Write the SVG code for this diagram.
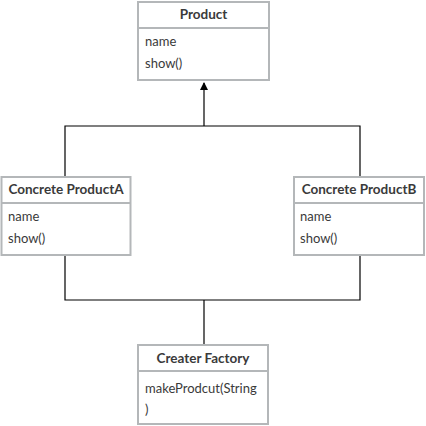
<svg xmlns="http://www.w3.org/2000/svg" width="426" height="426" viewBox="0 0 426 426">
<style>
.box{fill:#fff;stroke:#b4b7b9;stroke-width:2}
.div{stroke:#b4b7b9;stroke-width:2}
.h{font-family:Lato,"Open Sans",sans-serif;font-weight:bold;font-size:13.5px;fill:#3a3a3a;text-anchor:middle}
.t{font-family:Lato,"Open Sans",sans-serif;font-size:13px;fill:#3a3a3a}
.c{fill:none;stroke:#000;stroke-width:1.2}
</style>
<defs>
<marker id="arr" markerWidth="8" markerHeight="10" refX="7" refY="4" orient="auto" markerUnits="userSpaceOnUse">
<path d="M0,0 L8,4 L0,8 z" fill="#000"/>
</marker>
</defs>
<g id="connectors">
<polyline class="c" points="65,177 65,126 360,126 360,177"/>
<line class="c" x1="204" y1="126" x2="204" y2="83" marker-end="url(#arr)"/>
<polyline class="c" points="65,255 65,300 360,300 360,255"/>
<line class="c" x1="204" y1="300" x2="204" y2="345"/>
</g>
<g id="product">
<rect class="box" x="138" y="2" width="131" height="78"/>
<line class="div" x1="138" y1="28" x2="269" y2="28"/>
<text class="h" x="203.5" y="19">Product</text>
<text class="t" x="145" y="46">name</text>
<text class="t" x="145" y="68">show()</text>
</g>
<g id="productA">
<rect class="box" x="1.5" y="177" width="129" height="78"/>
<line class="div" x1="1.5" y1="203" x2="130.5" y2="203"/>
<text class="h" x="66" y="194">Concrete ProductA</text>
<text class="t" x="8" y="221">name</text>
<text class="t" x="8" y="243">show()</text>
</g>
<g id="productB">
<rect class="box" x="294" y="177" width="130" height="78"/>
<line class="div" x1="294" y1="203" x2="424" y2="203"/>
<text class="h" x="359" y="194">Concrete ProductB</text>
<text class="t" x="300" y="221">name</text>
<text class="t" x="300" y="243">show()</text>
</g>
<g id="factory">
<rect class="box" x="138" y="345" width="130" height="79"/>
<line class="div" x1="138" y1="371" x2="268" y2="371"/>
<text class="h" x="203" y="363">Creater Factory</text>
<text class="t" x="145" y="393">makeProdcut(String</text>
<text class="t" x="145" y="414">)</text>
</g>
</svg>
